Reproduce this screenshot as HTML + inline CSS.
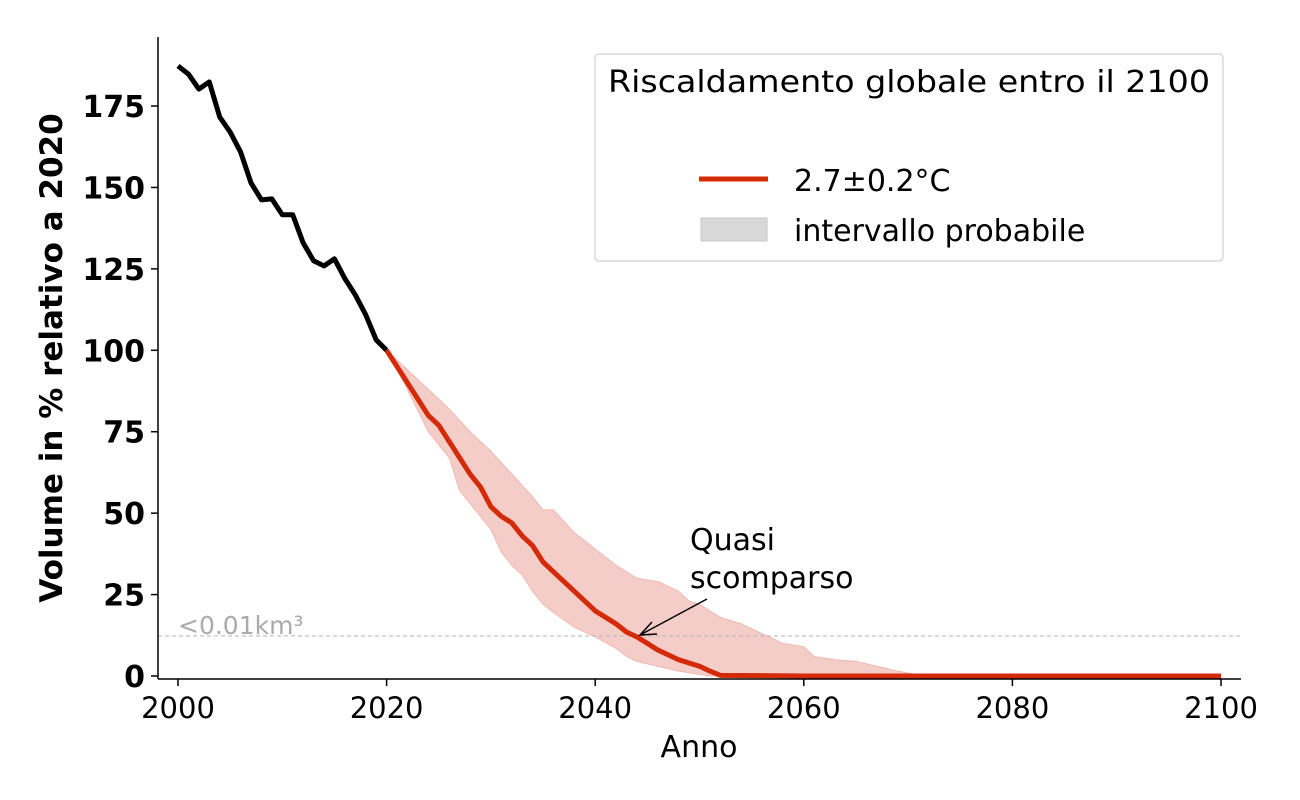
<!DOCTYPE html>
<html><head><meta charset="utf-8"><style>
html,body{margin:0;padding:0;background:#fff}
svg{display:block;font-family:"DejaVu Sans","Liberation Sans",sans-serif}
</style></head><body>
<svg id="chart" width="1300" height="800" viewBox="0 0 1300 800" xmlns="http://www.w3.org/2000/svg">
<g id="band-layer"></g>
<line id="thr" x1="158" x2="1241" stroke="#bbb" stroke-width="1.2" stroke-dasharray="4,3"/>
<text id="thrLabel" x="178" font-size="25" fill="#aaa">&lt;0.01km³</text>
<g id="line-layer"></g>
<g id="axes"></g>
<text x="699" y="757" font-size="30" text-anchor="middle">Anno</text>
<text transform="translate(62,358) rotate(-90)" font-size="31" font-weight="bold" text-anchor="middle">Volume in % relativo a 2020</text>
<text font-size="30"><tspan x="690" y="550">Quasi</tspan><tspan x="690" y="588">scomparso</tspan></text>
<g id="annot-arrow" stroke="#000" stroke-width="1.5" fill="none"></g>
<g>
<rect x="595" y="54" width="628" height="207" rx="4" fill="#fff" stroke="#d0d0d0" stroke-width="1.2"/>
<text x="909" y="92" font-size="30" text-anchor="middle" textLength="602" lengthAdjust="spacingAndGlyphs">Riscaldamento globale entro il 2100</text>
<line x1="699" x2="768" y1="179" y2="179" stroke="#d42a07" stroke-width="5"/>
<text x="794" y="191" font-size="30">2.7±0.2°C</text>
<rect x="701" y="218" width="66" height="23" fill="#d8d8d8" stroke="#c8c8c8"/>
<text x="794" y="241" font-size="30">intervallo probabile</text>
</g>
</svg>
<script>
const histYears=[2000,2001,2002,2003,2004,2005,2006,2007,2008,2009,2010,2011,2012,2013,2014,2015,2016,2017,2018,2019,2020];
const histValues=[187.3,184.8,180.2,182.4,171.6,167,160.9,151.4,146.2,146.5,141.6,141.6,133,127.5,125.9,128.1,122,117,110.9,103.2,100];
const projYears=[2020,2022,2024,2025,2026,2027,2028,2029,2030,2031,2032,2033,2034,2035,2036,2037,2038,2039,2040,2041,2042,2043,2044,2045,2046,2047,2048,2049,2050,2051,2052,2060,2080,2100];
const projValues=[100,90,80,77,72,67,62,58,52,49,47,43,40,35,32,29,26,23,20,18,16,13.5,12,10,8,6.5,5,4,3,1.5,0.2,0,0,0];
const upperYears=[2020,2022,2024,2026,2028,2030,2032,2034,2035,2036,2038,2040,2042,2044,2046,2048,2049,2050,2052,2054,2056,2058,2060,2061,2063,2065,2067,2069,2071,2072,2100];
const upperValues=[100,94,88,82,75,69,62,55,51,51,44,39,34,30,29,26,23,22,18,16,13,10,9,6,5,4.5,3,1.5,0.3,0,0];
const lowerYears=[2020,2022,2024,2026,2027,2028,2030,2031,2032,2033,2034,2035,2036,2038,2040,2042,2043,2044,2046,2048,2050,2051,2100];
const lowerValues=[100,88,75,67,57,53,45,38,34,31,26,22,19.5,15,12,8.5,6,4.5,3,1.5,0.5,0,0];
const xTicks=[2000,2020,2040,2060,2080,2100];
const yTicks=[0,25,50,75,100,125,150,175];
const threshold=12.3;
const NS='http://www.w3.org/2000/svg';
const X=v=>178+(v-2000)*10.43;
const Y=v=>676-v*3.257;
function mk(tag,attrs,parent){const e=document.createElementNS(NS,tag);for(const k in attrs)e.setAttribute(k,attrs[k]);parent.appendChild(e);return e;}
const band=document.getElementById('band-layer'),lines=document.getElementById('line-layer'),axes=document.getElementById('axes');
let d=upperYears.map((y,i)=>(i?'L':'M')+X(y)+','+Y(upperValues[i])).join('');
for(let i=lowerYears.length-1;i>=0;i--)d+='L'+X(lowerYears[i])+','+Y(lowerValues[i]);
const b=mk('path',{d:d+'Z',fill:'#f5cdc8',stroke:'#f0b8b0','stroke-width':1},band);


const thr=document.getElementById('thr');thr.setAttribute('y1',Y(threshold));thr.setAttribute('y2',Y(threshold));
document.getElementById('thrLabel').setAttribute('y',Y(threshold)-2);
const h=mk('path',{d:histYears.map((y,i)=>(i?'L':'M')+X(y)+','+Y(histValues[i])).join(''),fill:'none',stroke:'#000','stroke-width':5,'stroke-linejoin':'round'},lines);


const p=mk('path',{d:projYears.map((y,i)=>(i?'L':'M')+X(y)+','+Y(projValues[i])).join(''),fill:'none',stroke:'#d42a07','stroke-width':5,'stroke-linejoin':'round'},lines);


const s1=mk('line',{x1:158,x2:158,y1:37,y2:679,stroke:'#000','stroke-width':1.5},axes);


const s2=mk('line',{x1:158,x2:1241,y1:679,y2:679,stroke:'#000','stroke-width':1.5},axes);


xTicks.forEach(t=>{const l=mk('line',{x1:X(t),x2:X(t),y1:679,y2:686,stroke:'#000','stroke-width':1.5},axes);


const tx=mk('text',{x:X(t),y:718,'font-size':29,'text-anchor':'middle'},axes);tx.textContent=t;

});
yTicks.forEach(t=>{const l=mk('line',{x1:151,x2:158,y1:Y(t),y2:Y(t),stroke:'#000','stroke-width':1.5},axes);


const tx=mk('text',{x:145,y:Y(t)+11,'font-size':30,'font-weight':'bold','text-anchor':'end'},axes);tx.textContent=t;

});
const ar=document.getElementById('annot-arrow');
mk('path',{d:'M707,599L640,635M652,622L640,635L657,634'},ar);
</script>
</body></html>
